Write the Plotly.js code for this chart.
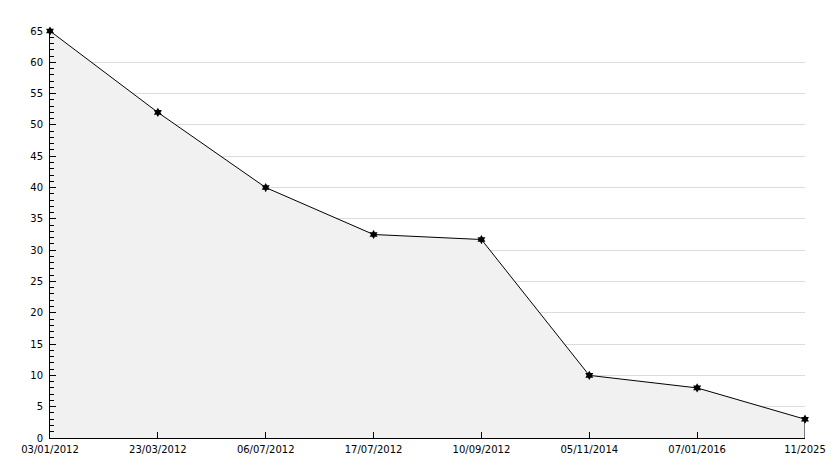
<!DOCTYPE html>
<html>
<head>
<meta charset="utf-8">
<script src="https://cdn.plot.ly/plotly-3.0.1.min.js"></script>
<style>html,body{margin:0;padding:0;background:#fff;}#chart{width:834px;height:468px;}</style>
</head>
<body>
<div id="chart"></div>
<script>
const categories = ["03/01/2012", "23/03/2012", "06/07/2012", "17/07/2012", "10/09/2012", "05/11/2014", "07/01/2016", "11/2025"];
const values = [65, 52, 40, 32.5, 31.7, 10, 8, 3];
const yTicks = [0, 5, 10, 15, 20, 25, 30, 35, 40, 45, 50, 55, 60, 65];

const lastCat = categories[categories.length - 1];
const lastVal = values[values.length - 1];

const traces = [
  {
    x: categories, y: values, type: 'scatter', mode: 'lines',
    fill: 'tozeroy', fillcolor: '#f1f1f1',
    line: {color: '#000', width: 1},
    hoverinfo: 'skip'
  },
  {
    x: [lastCat, lastCat], y: [0, lastVal], type: 'scatter', mode: 'lines',
    line: {color: '#000', width: 1}, hoverinfo: 'skip'
  },
  {
    x: categories, y: values, type: 'scatter', mode: 'markers',
    cliponaxis: false,
    marker: {symbol: 'hexagram', size: 7, color: '#000', line: {width: 0}},
    hoverinfo: 'x+y'
  }
];

const font = {family: 'DejaVu Sans, sans-serif', size: 10, color: '#000'};
const layout = {
  width: 834, height: 468,
  margin: {l: 50, r: 29, t: 31, b: 30, pad: 0},
  paper_bgcolor: '#fff', plot_bgcolor: '#fff',
  showlegend: false,
  font: font,
  xaxis: {
    type: 'category', range: [0, categories.length - 1],
    showgrid: false, zeroline: false,
    showline: true, linecolor: '#000', linewidth: 1,
    ticks: 'inside', ticklen: 6, tickcolor: '#000', tickwidth: 1,
    ticklabelstandoff: 2,
    tickfont: font, fixedrange: true
  },
  yaxis: {
    range: [0, 65], tickvals: yTicks,
    showgrid: true, gridcolor: '#dcdcdc', gridwidth: 1,
    zeroline: false,
    showline: true, linecolor: '#000', linewidth: 1,
    ticks: 'inside', ticklen: 6, tickcolor: '#000', tickwidth: 1,
    ticklabelstandoff: 4,
    minor: {dtick: 1, ticks: 'inside', ticklen: 4, tickcolor: '#000', showgrid: false},
    tickfont: font, fixedrange: true
  }
};

Plotly.newPlot('chart', traces, layout, {displayModeBar: false, staticPlot: true});
</script>
</body>
</html>
